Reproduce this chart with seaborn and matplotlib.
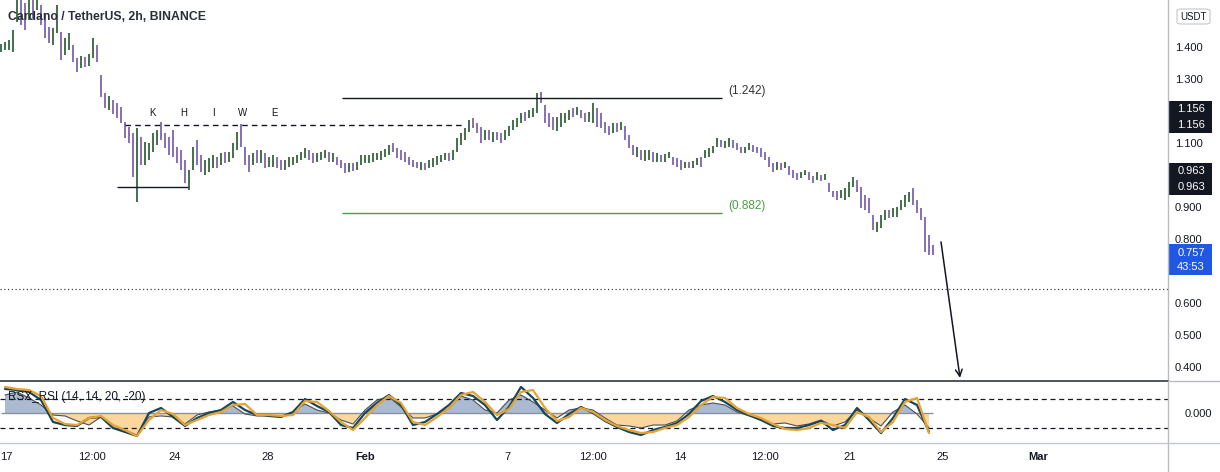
import numpy as np
import matplotlib
matplotlib.use("Agg")
import matplotlib.pyplot as plt
import matplotlib.transforms as mtransforms
from matplotlib.patches import Rectangle, FancyBboxPatch
from matplotlib.lines import Line2D
import seaborn as sns

# ---------------- data ----------------
high = [1.409,1.416,1.422,1.453,1.56,1.55,1.538,1.56,1.565,1.57,
        1.531,1.506,1.462,1.459,1.531,1.447,1.428,1.444,1.406,1.366,
        1.372,1.369,1.378,1.428,1.406,1.313,1.256,1.247,1.234,1.225,
        1.213,1.166,1.150,1.131,1.147,1.119,1.103,1.100,1.131,1.141,
        1.166,1.131,1.119,1.141,1.088,1.078,1.047,1.016,1.088,1.109,
        1.063,1.047,1.053,1.063,1.056,1.069,1.072,1.072,1.100,1.134,
        1.159,1.088,1.063,1.069,1.078,1.078,1.069,1.056,1.063,1.056,
        1.047,1.047,1.056,1.056,1.063,1.072,1.084,1.078,1.069,1.069,
        1.072,1.078,1.072,1.069,1.056,1.047,1.038,1.038,1.038,1.041,
        1.063,1.063,1.063,1.069,1.069,1.075,1.081,1.094,1.100,1.084,
        1.078,1.072,1.056,1.047,1.041,1.041,1.038,1.047,1.053,1.059,
        1.063,1.069,1.069,1.078,1.116,1.131,1.147,1.172,1.178,1.163,
        1.150,1.141,1.141,1.134,1.134,1.131,1.141,1.153,1.172,1.178,
        1.194,1.197,1.203,1.209,1.256,1.259,1.219,1.194,1.181,1.181,
        1.194,1.194,1.203,1.209,1.213,1.203,1.194,1.197,1.225,1.209,
        1.194,1.166,1.153,1.163,1.163,1.166,1.153,1.125,1.094,1.088,
        1.078,1.078,1.078,1.072,1.069,1.063,1.066,1.072,1.056,1.053,
        1.047,1.041,1.041,1.044,1.053,1.056,1.078,1.084,1.091,1.116,
        1.109,1.106,1.116,1.109,1.100,1.088,1.088,1.100,1.094,1.088,
        1.084,1.072,1.056,1.038,1.041,1.038,1.041,1.028,1.016,1.006,
        1.009,1.016,1.009,0.997,1.009,1.000,1.003,0.975,0.950,0.950,
        0.953,0.959,0.978,0.994,0.984,0.963,0.938,0.928,0.875,0.853,
        0.875,0.891,0.891,0.897,0.900,0.922,0.938,0.947,0.959,0.922,
        0.897,0.869,0.813,0.781]

low = [1.384,1.391,1.391,1.384,1.478,1.469,1.453,1.484,1.49,1.516,
       1.469,1.428,1.412,1.406,1.444,1.359,1.375,1.391,1.353,1.322,
       1.334,1.338,1.341,1.366,1.353,1.244,1.209,1.203,1.191,1.178,
       1.163,1.116,1.100,0.994,0.916,1.031,1.031,1.047,1.072,1.094,
       1.109,1.084,1.063,1.056,1.038,1.016,0.975,0.953,1.016,1.031,
       1.009,1.000,1.009,1.022,1.022,1.031,1.038,1.041,1.053,1.078,
       1.088,1.031,1.009,1.031,1.038,1.038,1.022,1.025,1.025,1.022,
       1.016,1.016,1.025,1.031,1.038,1.047,1.053,1.047,1.038,1.041,
       1.047,1.053,1.041,1.041,1.031,1.022,1.006,1.009,1.013,1.016,
       1.031,1.038,1.038,1.041,1.047,1.047,1.056,1.063,1.072,1.053,
       1.047,1.041,1.031,1.025,1.022,1.016,1.016,1.022,1.025,1.031,
       1.041,1.047,1.044,1.047,1.072,1.094,1.109,1.134,1.147,1.131,
       1.100,1.109,1.109,1.103,1.109,1.100,1.109,1.122,1.141,1.150,
       1.163,1.169,1.178,1.181,1.194,1.225,1.163,1.150,1.141,1.138,
       1.150,1.163,1.172,1.181,1.188,1.178,1.166,1.166,1.163,1.150,
       1.147,1.131,1.125,1.131,1.134,1.141,1.109,1.084,1.063,1.056,
       1.047,1.044,1.047,1.041,1.041,1.041,1.041,1.053,1.031,1.025,
       1.016,1.022,1.022,1.022,1.031,1.025,1.053,1.056,1.069,1.088,
       1.088,1.084,1.088,1.084,1.078,1.069,1.069,1.078,1.072,1.069,
       1.056,1.047,1.025,1.009,1.016,1.016,1.022,1.000,0.991,0.984,
       0.991,1.000,0.984,0.975,0.984,0.981,0.984,0.947,0.931,0.922,
       0.928,0.922,0.931,0.963,0.947,0.897,0.891,0.881,0.828,0.822,
       0.834,0.859,0.866,0.869,0.869,0.891,0.900,0.916,0.906,0.881,
       0.859,0.759,0.750,0.750]

close = [1.390,1.400,1.410,1.450,1.500,1.480,1.460,1.540,1.510,1.530,
         1.480,1.440,1.430,1.450,1.450,1.370,1.390,1.400,1.360,1.330,
         1.360,1.350,1.370,1.420,1.360,1.260,1.220,1.230,1.200,1.190,
         1.170,1.120,1.110,1.000,1.100,1.050,1.060,1.070,1.120,1.130,
         1.120,1.090,1.080,1.060,1.040,1.020,0.980,1.000,1.080,1.050,
         1.020,1.030,1.040,1.050,1.030,1.060,1.050,1.060,1.090,1.120,
         1.100,1.040,1.020,1.060,1.050,1.060,1.030,1.040,1.050,1.040,
         1.030,1.040,1.050,1.050,1.060,1.070,1.080,1.060,1.050,1.060,
         1.060,1.070,1.050,1.050,1.040,1.030,1.010,1.030,1.020,1.030,
         1.050,1.050,1.060,1.060,1.065,1.070,1.075,1.090,1.080,1.060,
         1.050,1.045,1.035,1.030,1.025,1.035,1.025,1.040,1.050,1.055,
         1.060,1.065,1.055,1.075,1.110,1.125,1.140,1.160,1.155,1.140,
         1.110,1.130,1.120,1.125,1.115,1.105,1.135,1.150,1.165,1.170,
         1.190,1.180,1.200,1.205,1.250,1.235,1.170,1.160,1.150,1.170,
         1.185,1.190,1.200,1.195,1.205,1.185,1.170,1.190,1.210,1.160,
         1.150,1.140,1.130,1.155,1.150,1.160,1.120,1.090,1.070,1.080,
         1.060,1.065,1.070,1.050,1.060,1.050,1.060,1.065,1.035,1.030,
         1.020,1.035,1.030,1.040,1.050,1.045,1.075,1.080,1.085,1.110,
         1.095,1.100,1.110,1.095,1.085,1.075,1.085,1.095,1.080,1.075,
         1.060,1.050,1.030,1.015,1.035,1.025,1.035,1.005,0.995,0.990,
         1.000,1.010,0.990,0.980,1.000,0.990,0.995,0.950,0.940,0.935,
         0.940,0.945,0.970,0.985,0.955,0.910,0.900,0.885,0.835,0.840,
         0.870,0.885,0.875,0.890,0.895,0.915,0.930,0.940,0.920,0.890,
         0.865,0.780,0.760,0.757]

# RSX_RSI oscillator (one reading every third bar)
rsx = [25.5,29.7,21.4,11.7,-2.1,-3.4,-10.3,-15.9,-4.8,-20.0,
       -22.8,-29.7,-4.8,-3.4,-4.8,-14.5,-2.1,2.1,4.8,10.3,
       -0.7,-3.4,-2.1,-4.8,2.1,13.1,4.8,0.7,-9.0,-14.5,
       4.8,18.6,22.8,9.0,-6.2,-6.2,-0.7,7.6,24.1,18.6,
       4.8,0.7,18.6,25.5,15.9,4.8,-6.2,4.8,7.6,4.8,
       -6.2,-15.9,-17.2,-20.0,-15.9,-15.9,-10.3,4.8,11.7,14.5,
       11.7,2.1,-3.4,-9.0,-14.5,-13.1,-17.2,-14.5,-9.0,-17.2,
       -11.7,4.8,-6.2,-17.2,2.1,11.7,-0.7,-20.0]
rsi_teal = [33.8,32.4,29.7,18.6,-11.7,-15.9,-17.2,-6.2,-4.8,-20.0,
            -25.5,-31.0,0.7,7.6,-4.8,-17.2,-6.2,0.7,4.8,15.9,
            4.8,-2.1,-3.4,-4.8,2.1,20.0,10.3,2.1,-15.9,-20.0,
            0.7,14.5,25.5,11.7,-15.9,-11.7,-0.7,11.7,28.3,24.1,
            11.7,-9.0,9.0,36.6,21.4,-0.7,-13.1,-0.7,9.0,0.7,
            -10.3,-18.6,-25.5,-29.7,-22.8,-18.6,-13.1,-0.7,17.2,24.1,
            15.9,4.8,-2.1,-9.0,-17.2,-20.0,-20.0,-15.9,-10.3,-22.8,
            -15.9,7.6,-9.0,-26.9,-6.2,20.0,11.7,-25.5]
rsi_orange = [36.6,33.8,32.4,24.1,-6.2,-14.5,-15.9,-6.2,-3.4,-15.9,
              -22.8,-31.0,-9.0,4.8,-0.7,-15.9,-9.0,-2.1,2.1,11.7,
              13.1,-2.1,-2.1,-3.4,-2.1,17.2,15.9,3.4,-11.7,-22.8,
              -6.2,11.7,24.1,14.5,-11.7,-15.9,-4.8,7.6,25.5,29.7,
              15.9,-2.1,6.2,29.7,32.4,7.6,-10.3,-4.8,7.6,2.1,
              -9.0,-17.2,-22.8,-26.9,-25.5,-20.0,-15.9,-4.8,11.7,22.8,
              21.4,7.6,-0.7,-6.2,-14.5,-21.4,-22.8,-20.0,-13.1,-15.9,
              -20.0,2.1,-4.8,-25.5,-11.7,15.9,21.4,-26.9]

date_labels = ["17", "12:00", "24", "28", "Feb", "7", "12:00", "14", "12:00", "21", "25", "Mar"]
date_bars = [1.25, 22.75, 43.5, 66.75, 91, 126.5, 148, 169.75, 191, 212.25, 235.5, 259.25]
price_ticks = [0.4, 0.5, 0.6, 0.8, 0.9, 1.1, 1.3, 1.4]
level_top = 1.242
level_bottom = 0.882
neckline = 1.156
base_line = 0.963
target_level = 0.644
last_price = 0.757
countdown = "43:53"
wave_labels = ["K", "H", "I", "W", "E"]
wave_bars = [37.75, 45.75, 53, 60.5, 68.5]
wave_level = 1.194

# ---------------- style ----------------
sns.set_theme(style="white")
plt.rcParams["font.family"] = ["Liberation Sans", "DejaVu Sans"]
TXT = "#131722"
UP = "#24572c"
DOWN = "#7356a8"

W, H = 1220, 472
fig = plt.figure(figsize=(W / 100, H / 100), dpi=100)
fig.patch.set_facecolor("white")
ax = fig.add_axes([0, 1 - 380 / H, 1168 / W, 380 / H])
ax2 = fig.add_axes([0, 1 - 442 / H, 1168 / W, 61 / H])

# ---------------- price bars ----------------
hi = np.array(high); lo = np.array(low); cl = np.array(close)
op = np.r_[cl[0], cl[:-1]]
xb = np.arange(len(cl))
cols = np.where(cl >= op, UP, DOWN)
ax.vlines(xb, lo, hi, colors=cols, lw=1.2)

ax.set_xlim(-0.25, 291.75)
ax.set_ylim(0.3594, 1.5469)
ax.set_xticks([])
ax.yaxis.tick_right()
ax.set_yticks(price_ticks)
ax.set_yticklabels([f"{v:.3f}" for v in price_ticks])
ax.tick_params(axis="y", length=0, pad=5, labelsize=8, colors=TXT)
for s in ax.spines.values():
    s.set_visible(False)

# drawings
ax.hlines(level_top, 85.25, 180.25, colors=TXT, lw=1)
ax.annotate(f"({level_top:.3f})", xy=(181.75, level_top), xytext=(0, 5),
            textcoords="offset points", va="center", ha="left", fontsize=8.5, color="#333")
ax.hlines(level_bottom, 85.25, 180.25, colors="#4a9e46", lw=1)
ax.annotate(f"({level_bottom:.3f})", xy=(181.75, level_bottom), xytext=(0, 5),
            textcoords="offset points", va="center", ha="left", fontsize=8.5, color="#4a9e46")
ax.hlines(neckline, 31, 115.5, colors=TXT, lw=1, linestyles=(0, (4, 3)))
ax.hlines(base_line, 29, 46.75, colors=TXT, lw=1)
ax.axhline(target_level, color="#444", lw=0.9, ls=(0, (1, 2)))
for lbl, xp in zip(wave_labels, wave_bars):
    ax.text(xp, wave_level, lbl, ha="center", va="center", fontsize=7, color=TXT)
ax.annotate("", xy=(239.75, 0.366), xytext=(235, 0.791),
            arrowprops=dict(arrowstyle="->", lw=1.1, color=TXT, mutation_scale=12,
                            shrinkA=0, shrinkB=0), annotation_clip=False)
ax.text(8 / 1168, 1 - 17 / 380, "Cardano / TetherUS, 2h, BINANCE", transform=ax.transAxes,
        fontsize=8.8, fontweight="bold", color="#2a2e39", va="center", ha="left")

# ---------------- RSI panel ----------------
rx = np.arange(1, len(cl), 3)[:len(rsx)]
r = np.array(rsx)
ax2.fill_between(rx, r, 0, where=r >= 0, interpolate=True, color="#9aaec9", alpha=0.85, lw=0)
ax2.fill_between(rx, r, 0, where=r <= 0, interpolate=True, color="#fbcf8c", alpha=0.85, lw=0)
ax2.hlines(0, 0, rx[-1] + 1, colors="#8c909a", lw=1)
ax2.axhline(20, color=TXT, lw=0.9, ls=(0, (4, 3)))
ax2.axhline(-20, color=TXT, lw=0.9, ls=(0, (4, 3)))
sns.lineplot(x=rx, y=r, ax=ax2, color="#4b4f5a", lw=0.8)
sns.lineplot(x=rx, y=np.array(rsi_teal), ax=ax2, color="#17475a", lw=1.6)
sns.lineplot(x=rx, y=np.array(rsi_orange), ax=ax2, color="#e6a332", lw=1.6)
ax2.set_xlim(-0.25, 291.75)
ax2.set_ylim(-39.3, 44.8)
ax2.yaxis.tick_right()
ax2.set_yticks([0])
ax2.set_yticklabels(["0.000"])
ax2.tick_params(axis="y", length=0, pad=12, labelsize=8, colors=TXT)
ax2.set_xticks(date_bars)
ax2.set_xticklabels(date_labels)
ax2.tick_params(axis="x", length=0, pad=7, labelsize=8, colors=TXT)
for t in ax2.get_xticklabels():
    if t.get_text() in ("Feb", "Mar"):
        t.set_fontweight("bold")
for s in ax2.spines.values():
    s.set_visible(False)
ax2.set_xlabel(""); ax2.set_ylabel("")
ax2.text(8 / 1168, 22.8, "RSX_RSI (14, 14, 20, -20)",
         transform=mtransforms.blended_transform_factory(ax2.transAxes, ax2.transData),
         fontsize=8.5, color=TXT, va="center", ha="left")

# ---------------- frame lines ----------------
fig.add_artist(Line2D([1168 / W, 1168 / W], [0, 1], color="#b8bbc2", lw=1))
fig.add_artist(Line2D([0, 1168 / W], [1 - 380.5 / H] * 2, color="#50535e", lw=1.4))
fig.add_artist(Line2D([1168 / W, 1], [1 - 380.5 / H] * 2, color="#b8bbc2", lw=1))
fig.add_artist(Line2D([0, 1], [1 - 442.5 / H] * 2, color="#c4c7cd", lw=1))

# ---------------- price-scale labels ----------------
def ypix(v):
    return ax.transData.transform((0, v))[1]

def label_box(value, lines, face, top_off, height):
    yv = ypix(value)
    top = yv + top_off
    fig.add_artist(Rectangle((1168 / W, (top - height) / H), 44 / W, height / H,
                             transform=fig.transFigure, facecolor=face, edgecolor="none"))
    for txt, off in lines:
        fig.text(1191 / W, (yv + off) / H, txt, color="white", fontsize=8,
                 ha="center", va="center")

label_box(neckline, [(f"{neckline:.3f}", 16), (f"{neckline:.3f}", 0)], TXT, 24, 32)
label_box(base_line, [(f"{base_line:.3f}", 16), (f"{base_line:.3f}", 0)], TXT, 24, 32)
label_box(last_price, [(f"{last_price:.3f}", 0), (countdown, -14)], "#2158e3", 9, 31)

fig.add_artist(FancyBboxPatch((1177 / W, 1 - 24 / H), 33 / W, 15 / H,
                              boxstyle="round,pad=0,rounding_size=0.004",
                              transform=fig.transFigure, facecolor="white",
                              edgecolor="#c4c7cd", lw=0.8))
fig.text(1193.5 / W, 1 - 16.5 / H, "USDT", fontsize=7, color=TXT, ha="center", va="center")

fig.savefig("out.png", dpi=100, facecolor="white")
